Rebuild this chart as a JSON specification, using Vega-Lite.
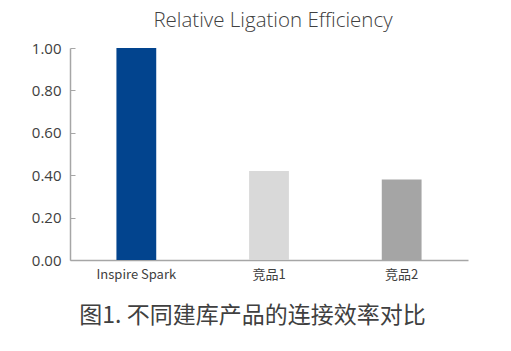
{
  "$schema": "https://vega.github.io/schema/vega-lite/v6.json",
  "width": 398,
  "height": 212,
  "autosize": {"type": "none"},
  "padding": {"left": 70, "top": 48, "right": 43, "bottom": 91},
  "background": "white",
  "title": {
    "text": "Relative Ligation Efficiency",
    "font": "Open Sans",
    "fontSize": 20.5,
    "fontWeight": 300,
    "color": "#404040",
    "anchor": "middle",
    "baseline": "alphabetic",
    "offset": -6,
    "dx": 4
  },
  "data": {
    "values": [
      {"product": "Inspire Spark", "value": 1.0},
      {"product": "竞品1", "value": 0.42},
      {"product": "竞品2", "value": 0.38}
    ]
  },
  "mark": {"type": "bar"},
  "encoding": {
    "x": {
      "field": "product",
      "type": "nominal",
      "sort": null,
      "scale": {"paddingInner": 0.7, "paddingOuter": 0.35},
      "axis": {
        "title": "图1. 不同建库产品的连接效率对比",
        "titleFont": "Noto Sans CJK SC",
        "titleFontSize": 23,
        "titleFontWeight": "normal",
        "titleColor": "#404040",
        "titleX": 182,
        "titleY": 62,
        "titleAlign": "center",
        "titleBaseline": "alphabetic",
        "labelAngle": 0,
        "labelFont": "Noto Sans CJK SC",
        "labelFontSize": 13,
        "labelColor": "#404040",
        "labelPadding": 8,
        "ticks": false,
        "domainColor": "#a6a6a6",
        "domainWidth": 1.5
      }
    },
    "y": {
      "field": "value",
      "type": "quantitative",
      "scale": {"domain": [0, 1]},
      "axis": {
        "title": null,
        "values": [0, 0.2, 0.4, 0.6, 0.8, 1.0],
        "format": ".2f",
        "grid": false,
        "labelFont": "Open Sans",
        "labelFontSize": 15,
        "labelColor": "#404040",
        "labelPadding": 14,
        "tickSize": -5,
        "tickColor": "#a6a6a6",
        "domainColor": "#a6a6a6",
        "domainWidth": 1.5
      }
    },
    "color": {
      "field": "product",
      "type": "nominal",
      "scale": {
        "domain": ["Inspire Spark", "竞品1", "竞品2"],
        "range": ["#02448e", "#d9d9d9", "#a5a5a5"]
      },
      "legend": null
    }
  },
  "config": {"view": {"stroke": null}}
}
